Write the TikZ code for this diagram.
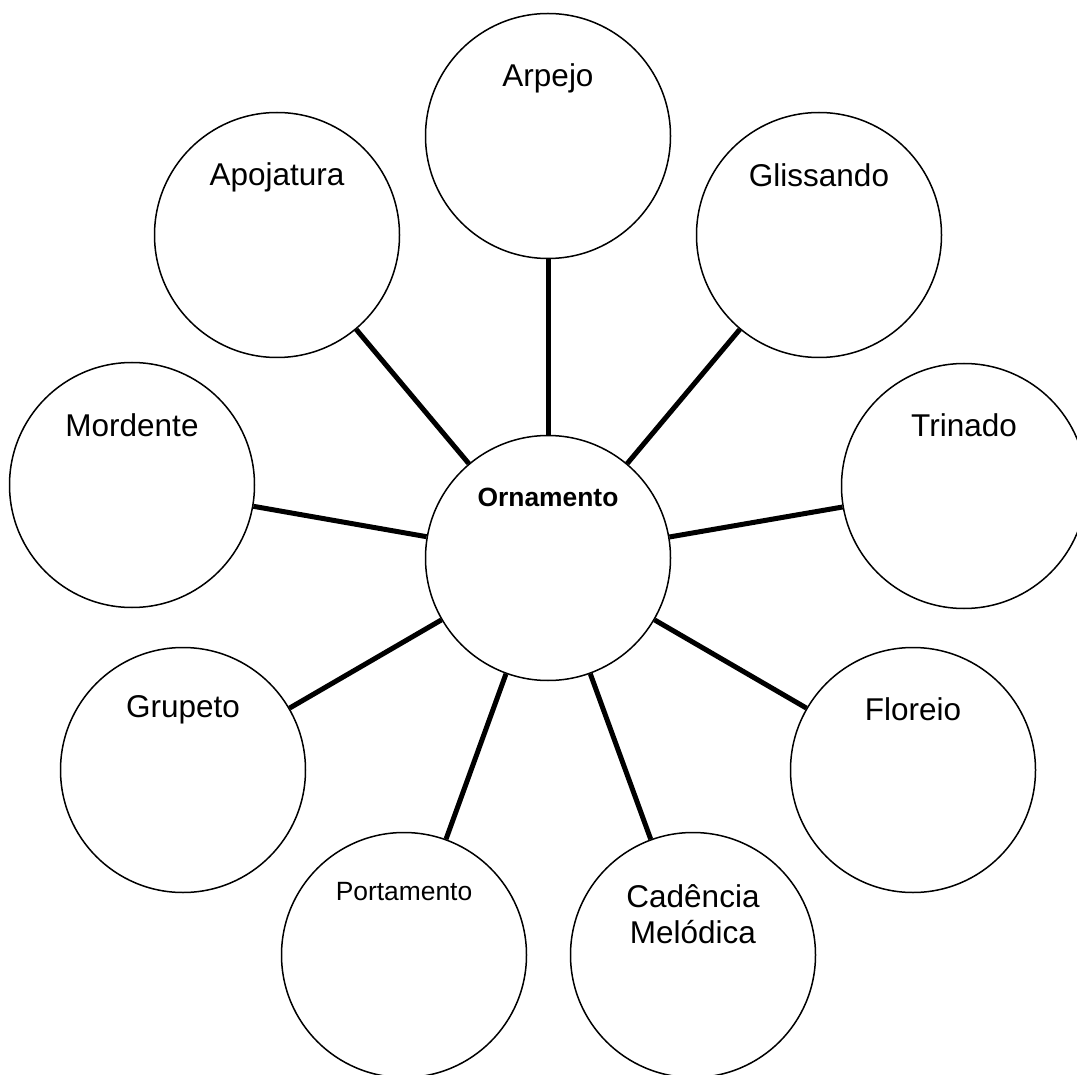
\documentclass[tikz,border=0pt]{standalone}
\usepackage{fontspec}
\setmainfont{Liberation Sans}
\usepackage{tikz}
\usetikzlibrary{positioning}
\tikzset{ball/.style={draw=black,circle,line width=1.5pt,minimum size=245pt,inner sep=0pt},
  lbl/.style={font=\fontsize{31.5}{36}\selectfont,align=center,inner sep=0pt},
  link/.style={line width=5pt,draw=black}}

\begin{document}
\begin{tikzpicture}[x=1pt,y=-1pt]
\useasboundingbox (0,0) rectangle (1077,1075);
\node[ball] (orn) at (548,558) {};
\node[ball] (arpejo) at (548,136) {};
\node[ball] (apoj) at (277,235) {};
\node[ball] (gliss) at (819,235) {};
\node[ball] (mord) at (132,485) {};
\node[ball] (trin) at (964,486) {};
\node[ball] (grup) at (183,770) {};
\node[ball] (flor) at (913,770) {};
\node[ball] (port) at (404,955) {};
\node[ball] (cad) at (693,955) {};
% texts, set high in each circle
\node[lbl,font=\fontsize{26.4}{30}\selectfont\bfseries] (orn-t) at ([yshift=61pt]orn.center) {Ornamento};
\node[lbl] (arpejo-t) at ([yshift=58pt]arpejo.center) {Arpejo};
\node[lbl] (apoj-t) at ([yshift=58pt]apoj.center) {Apojatura};
\node[lbl] (gliss-t) at ([yshift=60pt]gliss.center) {Glissando};
\node[lbl] (mord-t) at ([yshift=60pt]mord.center) {Mordente};
\node[lbl] (trin-t) at ([yshift=61pt]trin.center) {Trinado};
\node[lbl] (grup-t) at ([yshift=60pt]grup.center) {Grupeto};
\node[lbl] (flor-t) at ([yshift=61pt]flor.center) {Floreio};
\node[lbl,font=\fontsize{26.4}{30}\selectfont] (port-t) at ([yshift=63pt]port.center) {Portamento};
\node[lbl] (cad-t) at ([yshift=41pt]cad.center) {Cadência\\Melódica};
\draw[link] (orn) -- (arpejo);
\draw[link] (orn) -- (apoj);
\draw[link] (orn) -- (gliss);
\draw[link] (orn) -- (mord);
\draw[link] (orn) -- (trin);
\draw[link] (orn) -- (grup);
\draw[link] (orn) -- (flor);
\draw[link] (orn) -- (port);
\draw[link] (orn) -- (cad);
\end{tikzpicture}
\end{document}
